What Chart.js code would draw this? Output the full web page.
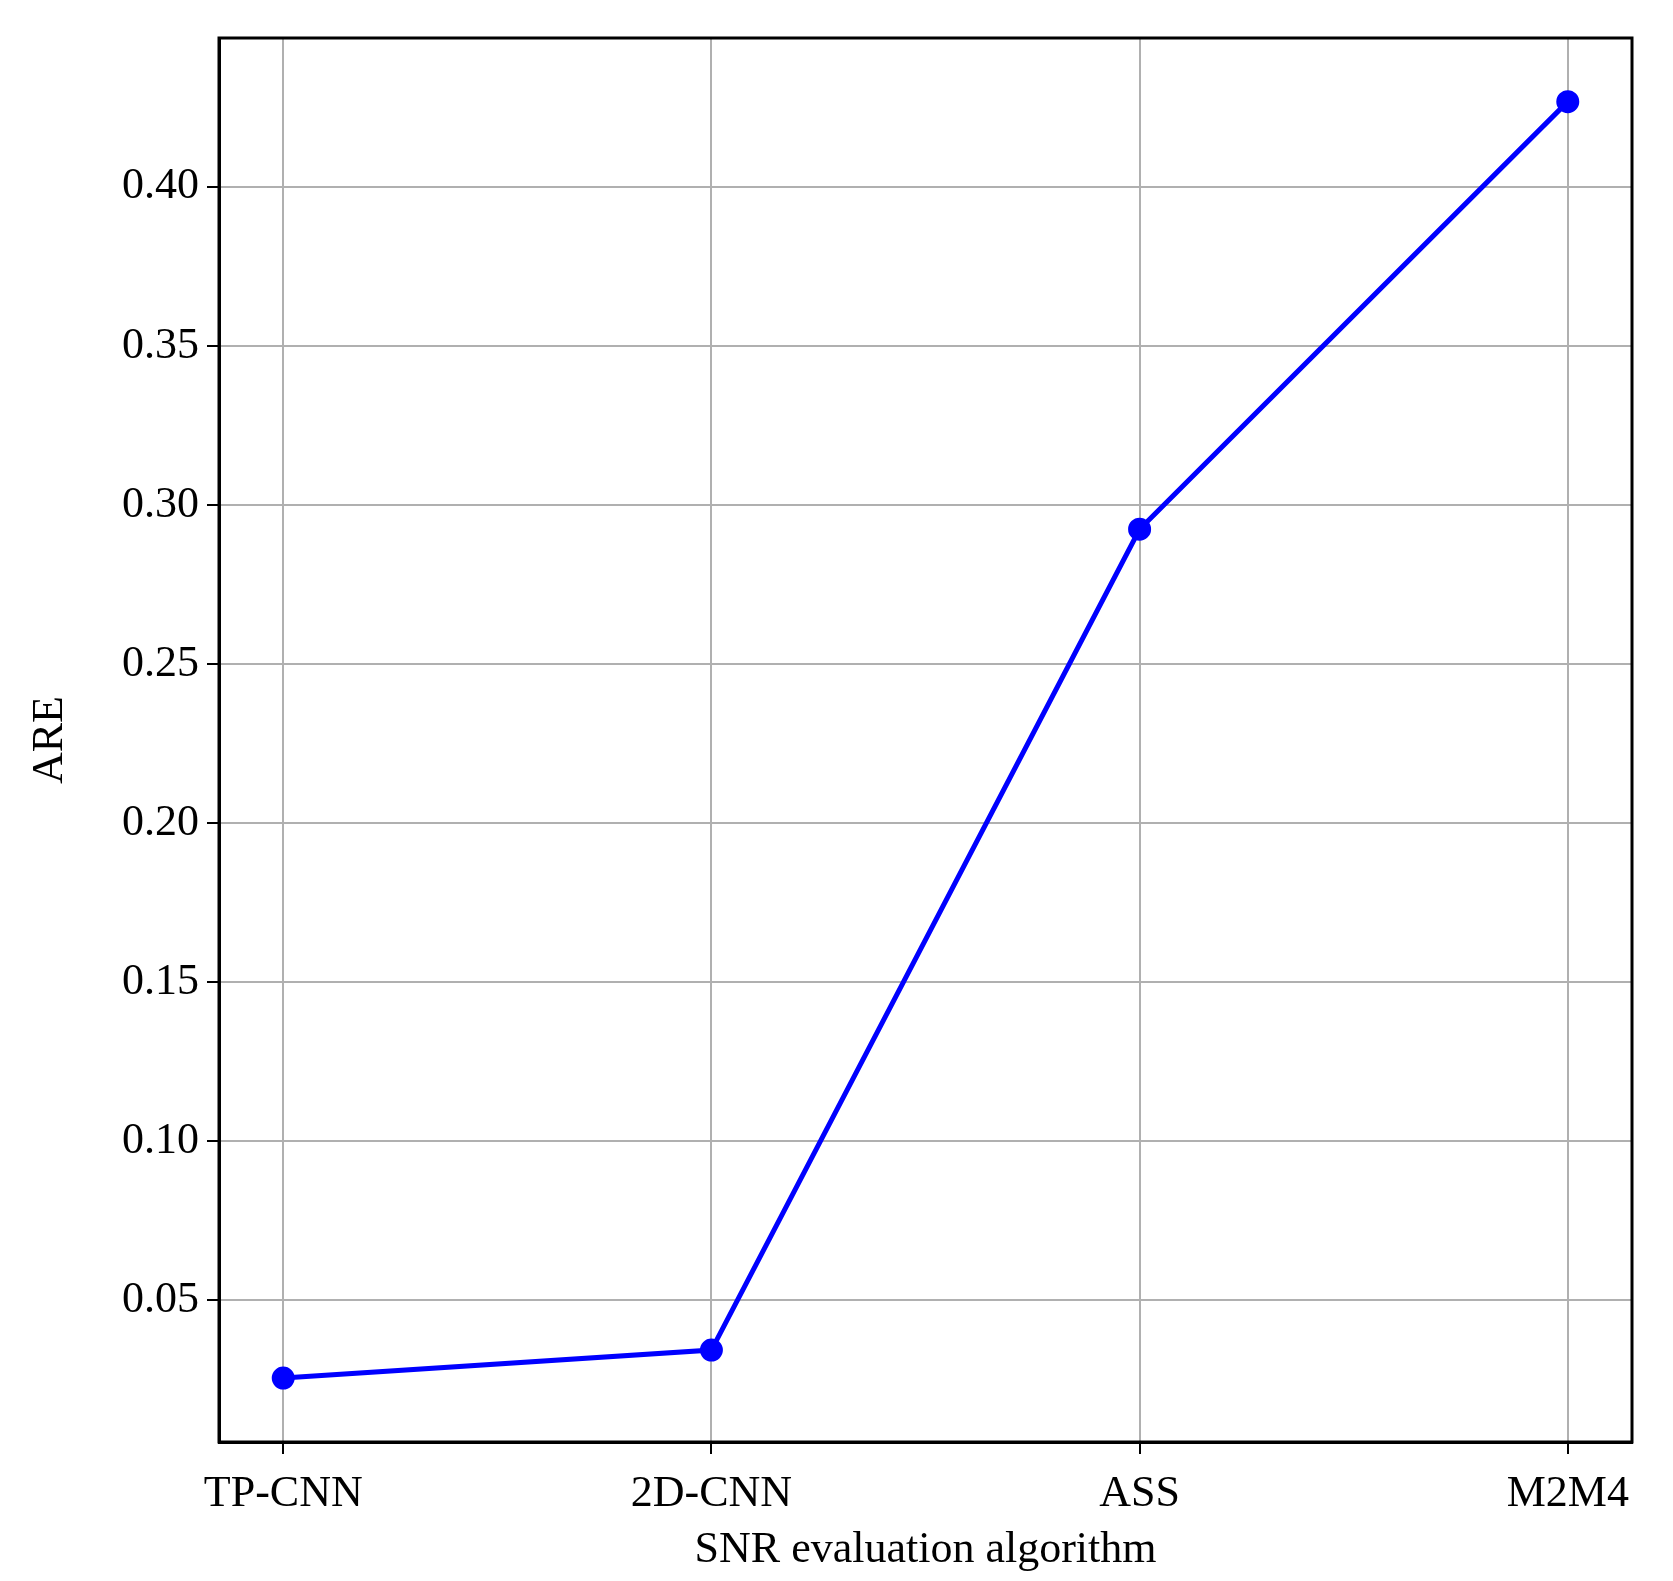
<!DOCTYPE html>
<html><head><meta charset="utf-8">
<script src="https://cdn.jsdelivr.net/npm/chart.js@4"></script>
<style>html,body{margin:0;padding:0;background:#fff}#w{width:1673px;height:1581px}</style>
</head><body><div id="w"><canvas id="c"></canvas></div>
<script>
const categories = ["TP-CNN","2D-CNN","ASS","M2M4"];
const areValues = [0.0256,0.0344,0.2924,0.4268];
const yTicks = [0.05,0.10,0.15,0.20,0.25,0.30,0.35,0.40];
const font = {family:"'Liberation Serif', 'Times New Roman', serif", size:44};
new Chart(document.getElementById('c'),{
  type:'line',
  data:{datasets:[{data:areValues.map((v,i)=>({x:i,y:v})),borderColor:'#0000ff',backgroundColor:'#0000ff',
    borderWidth:5,pointRadius:9,pointHoverRadius:9,tension:0}]},
  options:{responsive:true,maintainAspectRatio:false,animation:false,
    layout:{padding:{top:38,right:41,bottom:4,left:20}},
    plugins:{legend:{display:false},tooltip:{enabled:false}},
    scales:{
      x:{type:'linear',min:-0.15,max:3.15,
        afterBuildTicks:a=>{a.ticks=categories.map((c,i)=>({value:i}));},
        afterFit:a=>{a.height=135;},
        ticks:{font,color:'#000',padding:14,callback:v=>categories[v]},
        grid:{color:'#b0b0b0',lineWidth:2,tickLength:12,tickColor:'#000'},
        border:{color:'#000',width:3},
        title:{display:true,text:'SNR evaluation algorithm',font,color:'#000',padding:{top:0,bottom:0}}},
      y:{min:0.0055,max:0.4468,
        afterBuildTicks:a=>{a.ticks=yTicks.map(v=>({value:v}));},
        afterFit:a=>{a.width=199;},
        ticks:{font,color:'#000',padding:8,callback:v=>v.toFixed(2)},
        grid:{color:'#b0b0b0',lineWidth:2,tickLength:12,tickColor:'#000'},
        border:{color:'#000',width:3},
        title:{display:true,text:'ARE',font,color:'#000',padding:{bottom:0}}}
    }},
  plugins:[{id:'frame',afterDraw(ch){const {ctx,chartArea:a}=ch;ctx.save();ctx.strokeStyle='#000';ctx.lineWidth=3;ctx.strokeRect(a.left,a.top,a.right-a.left,a.bottom-a.top);ctx.restore();}}]
});
</script></body></html>
